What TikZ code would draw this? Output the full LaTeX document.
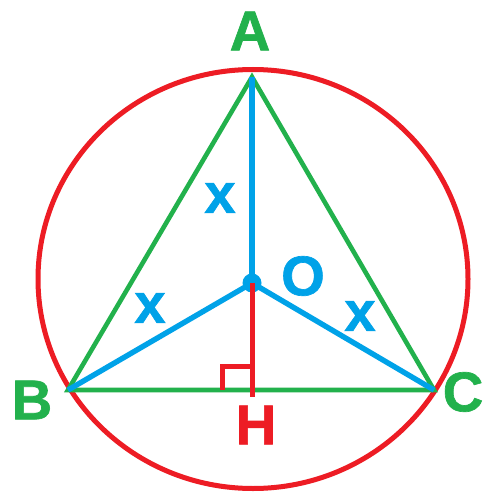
\documentclass[tikz,border=0pt]{standalone}
\usepackage{fontspec}
\setmainfont{Liberation Sans}
\newfontfamily\heavyfont{Liberation Sans Bold}[FakeBold=1.2]
\definecolor{pgreen}{RGB}{34,177,76}
\definecolor{pred}{RGB}{237,28,36}
\definecolor{pblue}{RGB}{0,162,232}
\begin{document}
\begin{tikzpicture}[x=1pt,y=-1pt,
  lbl/.style={inner sep=0pt,font=\fontsize{56}{56}\heavyfont},
  gline/.style={draw=pgreen,line width=4.6pt},
  bline/.style={draw=pblue,line width=5.4pt},
  rline/.style={draw=pred,line width=5pt}]
\useasboundingbox (0,0) rectangle (482,492);
\fill[white] (0,0) rectangle (482,492);
\coordinate (A) at (252,77);
\coordinate (B) at (68,390);
\coordinate (C) at (434,390);
\coordinate (O) at (252,283);
\coordinate (H) at (252,391);
\coordinate (Hend) at (252,397);
\coordinate (R1) at (222,390);
\coordinate (R2) at (222,366);
\coordinate (R3) at (252,366);
\coordinate (Oc) at (253,279);
% circle
\draw[rline] (Oc) ellipse [x radius=215, y radius=209.5];
% triangle
\draw[gline,line join=miter] (A) -- (B) -- (C) -- cycle;
% radii
\draw[bline] (O) -- (A);
\draw[bline] (O) -- (B);
\draw[bline] (O) -- (C);
\fill[pblue] (O) circle [radius=9.5];
% altitude and right angle
\draw[rline] (O) -- (Hend);
\draw[rline,line join=miter] (R1) -- (R2) -- (R3);
% labels
\node[lbl,text=pgreen] (lA) at (250,31) {A};
\node[lbl,text=pgreen] (lB) at (32,400) {B};
\node[lbl,text=pgreen] (lC) at (463,392) {C};
\node[lbl,text=pred] (lH) at (256,425) {H};
\node[lbl,text=pblue] (lO) at (303,276) {O};
\node[lbl,text=pblue] (x1) at (220,198) {x};
\node[lbl,text=pblue] (x2) at (150,308) {x};
\node[lbl,text=pblue] (x3) at (360,316) {x};
\end{tikzpicture}
\end{document}
